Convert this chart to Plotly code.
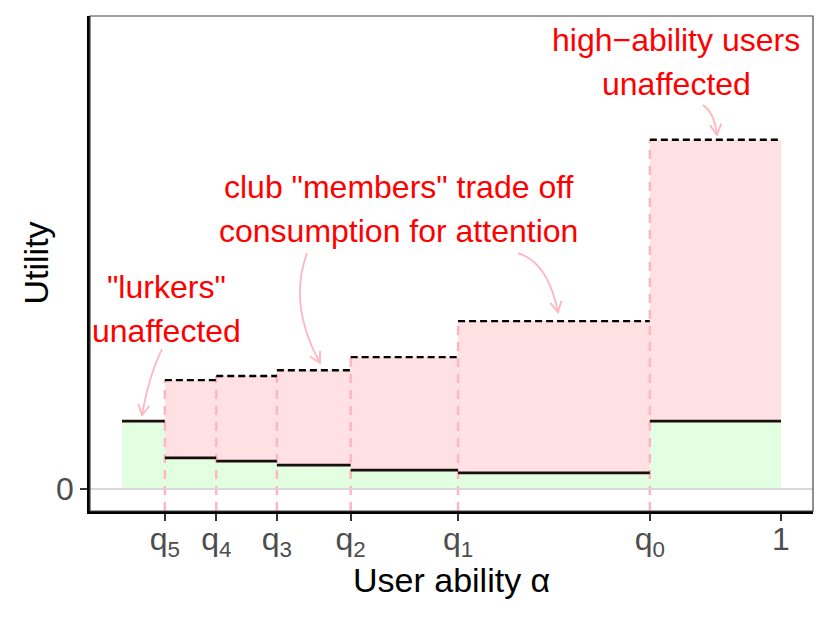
import numpy as np
import plotly.graph_objects as go

# cut-offs on the ability axis (lowest user at 0, best user at 1)
x_start = 0.0
cut_vals = [0.065, 0.143, 0.235, 0.347, 0.510, 0.801, 1.0]
cut_names = ["q<sub>5</sub>", "q<sub>4</sub>", "q<sub>3</sub>", "q<sub>2</sub>",
             "q<sub>1</sub>", "q<sub>0</sub>", "1"]

# utility in each ability band: with the club (solid) and without (dashed)
util_solid = [15.1, 6.9, 6.2, 5.3, 4.2, 3.6, 15.1]
util_dashed = [None, 24.2, 25.1, 26.4, 29.3, 37.3, 77.6]

FONT = "Liberation Sans, Arial, sans-serif"
GREEN = "rgb(226,255,226)"
PINK = "rgb(255,225,228)"
LIGHTPINK = "rgb(255,182,193)"

edges = [x_start] + cut_vals
x0 = np.array(edges[:-1])
x1 = np.array(edges[1:])
centers = (x0 + x1) / 2
widths = x1 - x0
solid = np.array(util_solid)
dashed = np.array([d if d is not None else s for d, s in zip(util_dashed, util_solid)])

xr = [-0.0486, 1.0486]
yr = [-4.89, 105.1]

fig = go.Figure()

# green: utility kept, pink: utility given up
fig.add_trace(go.Bar(x=centers, y=solid, base=0, width=widths,
                     marker=dict(color=GREEN, line=dict(width=0)), hoverinfo="skip"))
fig.add_trace(go.Bar(x=centers, y=dashed - solid, base=solid, width=widths,
                     marker=dict(color=PINK, line=dict(width=0)), hoverinfo="skip"))

# pink dashed guides at each cut-off
vx, vy = [], []
for i, q in enumerate(cut_vals[:-1]):
    top = max(dashed[i], dashed[i + 1])
    vx += [q, q, None]
    vy += [yr[0], top, None]
fig.add_trace(go.Scatter(x=vx, y=vy, mode="lines",
                         line=dict(color=LIGHTPINK, width=2.5, dash="9px,7px"), hoverinfo="skip"))

# solid and dashed step lines
sx, sy, dx, dy = [], [], [], []
for i in range(len(x0)):
    sx += [x0[i], x1[i], None]
    sy += [solid[i], solid[i], None]
    if util_dashed[i] is not None:
        dx += [x0[i], x1[i], None]
        dy += [util_dashed[i], util_dashed[i], None]
fig.add_trace(go.Scatter(x=sx, y=sy, mode="lines",
                         line=dict(color="#1a0d0d", width=2.8), hoverinfo="skip"))
fig.add_trace(go.Scatter(x=dx, y=dy, mode="lines",
                         line=dict(color="black", width=2.4, dash="7px,4px"), hoverinfo="skip"))

# text labels
labels = [
    ("high\u2212ability users", 0.8407, 99.8),
    ("unaffected", 0.8407, 90.0),
    ("club \"members\" trade off", 0.4203, 67.1),
    ("consumption for attention", 0.4203, 57.3),
    ("\"lurkers\"", 0.0668, 44.9),
    ("unaffected", 0.0668, 35.1),
]
for txt, ax_, ay_ in labels:
    fig.add_annotation(x=ax_, y=ay_, text=txt, showarrow=False, xanchor="center",
                       yanchor="middle", font=dict(family=FONT, size=32, color="red"))

# curved pink arrows (start, control, end), drawn in pixel space of the panel
px_per_x = 659.0
px_per_y = 4.5
arrows = [
    ((0.0607, 31.1), (0.041, 25.3), (0.0303, 16.4)),
    ((0.2807, 52.4), (0.2519, 40.9), (0.3005, 28.0)),
    ((0.6009, 52.4), (0.6464, 50.4), (0.6616, 39.3)),
    ((0.8816, 85.3), (0.8983, 83.8), (0.9029, 78.7)),
]
for p0, c, p1 in arrows:
    fig.add_shape(type="path", xref="x", yref="y",
                  path=f"M {p0[0]},{p0[1]} Q {c[0]},{c[1]} {p1[0]},{p1[1]}",
                  line=dict(color=LIGHTPINK, width=1.8))
    # open arrow head
    vxp = (p1[0] - c[0]) * px_per_x
    vyp = (p1[1] - c[1]) * px_per_y
    ang = np.arctan2(vyp, vxp)
    L = 12
    pts = []
    for da in (np.pi - 0.5, np.pi + 0.5):
        pts.append((p1[0] + L * np.cos(ang + da) / px_per_x,
                    p1[1] + L * np.sin(ang + da) / px_per_y))
    fig.add_shape(type="path", xref="x", yref="y",
                  path=f"M {pts[0][0]},{pts[0][1]} L {p1[0]},{p1[1]} L {pts[1][0]},{pts[1][1]}",
                  line=dict(color=LIGHTPINK, width=1.8))

# zero line and panel border
fig.add_shape(type="line", xref="paper", yref="y", x0=0, x1=1, y0=0, y1=0,
              line=dict(color="#d9d9d9", width=2.2), layer="above")
fig.add_shape(type="rect", xref="paper", yref="paper", x0=0, x1=1, y0=0, y1=1,
              line=dict(color="#444444", width=1.2), layer="above")

# axis titles
fig.add_annotation(xref="paper", yref="paper", x=0.5, y=0, yshift=-69,
                   xanchor="center", yanchor="middle",
                   text="User ability \u03b1", showarrow=False,
                   font=dict(family=FONT, size=34, color="black"))
fig.add_annotation(xref="paper", yref="paper", x=0, y=0.5, xshift=-55,
                   xanchor="center", yanchor="middle",
                   text="Utility", textangle=-90, showarrow=False,
                   font=dict(family=FONT, size=34, color="black"))

# the page body adds 8px around the figure, so the figure is 8px smaller
fig.update_layout(
    width=822, height=615,
    margin=dict(l=82, r=17, t=8, b=112),
    plot_bgcolor="white", paper_bgcolor="white",
    barmode="overlay", bargap=0, showlegend=False,
    font=dict(family=FONT),
)
fig.update_xaxes(range=xr, tickvals=cut_vals, ticktext=cut_names, automargin=False,
                 ticks="outside", ticklen=7, tickwidth=2.2, tickcolor="#333333",
                 ticklabelstandoff=-9,
                 showline=True, linecolor="black", linewidth=2.6,
                 showgrid=False, zeroline=False,
                 tickfont=dict(size=32, color="#4d4d4d", family=FONT))
fig.update_yaxes(range=yr, tickvals=[0], ticktext=["0"], automargin=False,
                 ticks="outside", ticklen=7, tickwidth=2.2, tickcolor="#333333",
                 ticklabelstandoff=0,
                 showline=True, linecolor="black", linewidth=2.6,
                 showgrid=False, zeroline=False,
                 tickfont=dict(size=32, color="#4d4d4d", family=FONT))

fig.write_html("out.html")
